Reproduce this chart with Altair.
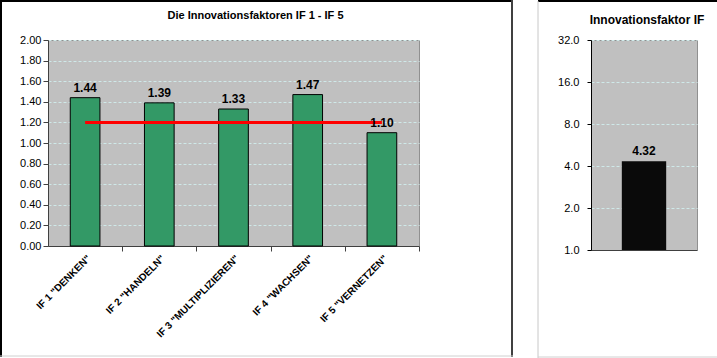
import altair as alt
import pandas as pd

cats = ['IF 1 "DENKEN"', 'IF 2 "HANDELN"', 'IF 3 "MULTIPLIZIEREN"', 'IF 4 "WACHSEN"', 'IF 5 "VERNETZEN"']
vals = [1.44, 1.39, 1.33, 1.47, 1.10]
ref_level = [1.20, 1.20, 1.20, 1.20, 1.20]
y_ticks = [0.0, 0.2, 0.4, 0.6, 0.8, 1.0, 1.2, 1.4, 1.6, 1.8, 2.0]

total_name = ["IF"]
total_val = [4.32]
total_base = [1.0]
log_ticks = [1, 2, 4, 8, 16, 32]

FONT = "Liberation Sans"
GRID = "#cfe9e9"

df = pd.DataFrame({"cat": cats, "val": vals, "ref": ref_level})
df2 = pd.DataFrame({"k": total_name, "val": total_val, "base": total_base})
one = pd.DataFrame({"a": [0]})

PLOT_W = 371
half_step = PLOT_W / len(cats) / 2

xaxis = alt.Axis(title=None, labelAngle=-45, labelFontWeight="bold", labelFontSize=10,
                 labelFont=FONT, labelColor="black", ticks=True, tickSize=5,
                 tickColor="#404040", tickOffset=half_step, labelOffset=-half_step,
                 domainColor="#404040", labelPadding=2)
xscale = alt.Scale(paddingInner=0.6, paddingOuter=0.3)
yaxis = alt.Axis(title=None, values=y_ticks, format=".2f", labelFontSize=11, labelFont=FONT,
                 labelColor="black", tickColor="#404040", tickSize=5, labelPadding=2,
                 labelOverlap=False, domainColor="#404040", grid=True, gridColor=GRID,
                 gridDash=[3, 2], tickCount=11)
yscale = alt.Scale(domain=[0, 2], nice=False)


def X():
    return alt.X("cat:N", sort=cats, scale=xscale, axis=xaxis)


base = alt.Chart(df)
bars = base.mark_bar(color="#339966", stroke="black", strokeWidth=1).encode(
    x=X(), y=alt.Y("val:Q", scale=yscale, axis=yaxis))
labels = base.mark_text(dy=-10, fontWeight="bold", fontSize=12, font=FONT, color="black").encode(
    x=X(), y=alt.Y("val:Q", scale=yscale, axis=yaxis), text=alt.Text("val:Q", format=".2f"))
line = base.mark_line(color="#ff0000", strokeWidth=3).encode(
    x=X(), y=alt.Y("ref:Q", scale=yscale, axis=yaxis))

# chart frame (decoration)
fr = alt.Chart(one)
f_top = fr.mark_rule(color="black", strokeWidth=2).encode(
    x=alt.value(-48), x2=alt.value(465), y=alt.value(-39))
f_left = fr.mark_rule(color="black", strokeWidth=2).encode(
    x=alt.value(-47), y=alt.value(-40), y2=alt.value(317))
f_right = fr.mark_rule(color="#404040", strokeWidth=2).encode(
    x=alt.value(464), y=alt.value(-40), y2=alt.value(317))
f_bot = fr.mark_rule(color="#d0d0d0", strokeWidth=1).encode(
    x=alt.value(-48), x2=alt.value(465), y=alt.value(316))

left = alt.layer(bars, line, labels, f_top, f_left, f_right, f_bot).properties(
    width=PLOT_W, height=206,
    title=alt.TitleParams("Die Innovationsfaktoren IF 1 - IF 5", fontSize=11, font=FONT,
                          fontWeight="bold", dx=22, offset=-22),
)

xenc2 = alt.X("k:N", scale=alt.Scale(paddingInner=0.41, paddingOuter=0.41),
              axis=alt.Axis(title=None, labels=False, ticks=False, domainColor="#404040"))
yenc2 = alt.Y("val:Q",
              scale=alt.Scale(type="log", base=2, domain=[1, 32], nice=False),
              axis=alt.Axis(title=None, values=log_ticks, format=".1f", labelFontSize=11,
                            labelFont=FONT, labelColor="black", tickColor="black", tickSize=4,
                            labelPadding=8, domainColor="black", grid=True, gridColor=GRID,
                            gridDash=[3, 2]))
base2 = alt.Chart(df2)
bar2 = base2.mark_bar(color="#0a0a0a").encode(x=xenc2, y=yenc2, y2="base:Q")
lab2 = base2.mark_text(dy=-10, fontWeight="bold", fontSize=12, font=FONT, color="black").encode(
    x="k:N", y="val:Q", text=alt.Text("val:Q", format=".2f"))

fr2 = alt.Chart(one)
g_top = fr2.mark_rule(color="black", strokeWidth=2).encode(
    x=alt.value(-53), x2=alt.value(126), y=alt.value(-39))
g_left = fr2.mark_rule(color="#c8c8c8", strokeWidth=1).encode(
    x=alt.value(-53), y=alt.value(-39), y2=alt.value(318))
g_bot = fr2.mark_rule(color="#d0d0d0", strokeWidth=1).encode(
    x=alt.value(-53), x2=alt.value(126), y=alt.value(317))

right = alt.layer(bar2, lab2, g_top, g_left, g_bot).properties(
    width=106, height=210,
    title=alt.TitleParams("Innovationsfaktor IF", fontSize=12, font=FONT, fontWeight="bold",
                          dx=3, offset=-27),
)

chart = alt.hconcat(left, right, spacing=21).properties(
    padding={"left": -2, "top": -2, "right": -2, "bottom": -1},
    background="white",
).configure_view(fill="#c0c0c0", stroke="#909090")

chart.save("out.html", embed_options={"renderer": "svg", "actions": False})
